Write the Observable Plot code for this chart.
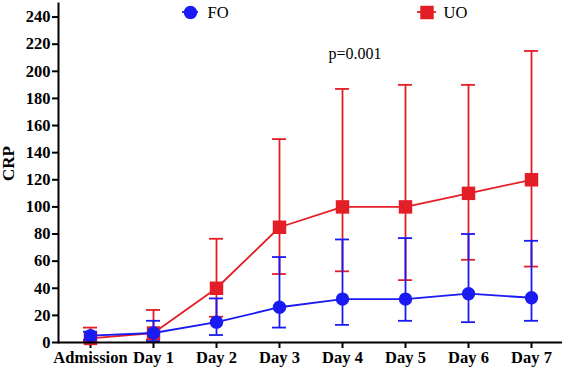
<!DOCTYPE html>
<html>
<head>
<meta charset="utf-8">
<script src="https://cdn.jsdelivr.net/npm/d3@7"></script>
<script src="https://cdn.jsdelivr.net/npm/@observablehq/plot@0.6"></script>
<style>
  html, body { margin: 0; padding: 0; background: white; }
</style>
</head>
<body>
<div id="chart"></div>
<script>
const categories = ["Admission", "Day 1", "Day 2", "Day 3", "Day 4", "Day 5", "Day 6", "Day 7"];
const foMean = [5, 7, 15, 26, 32, 32, 36, 33];
const foLow  = [2, 1, 5.5, 11, 13, 16, 15, 16];
const foHigh = [8, 16, 32.5, 63, 76, 77, 80, 75];
const uoMean = [3, 7, 40, 85, 100, 100, 110, 120];
const uoLow  = [1, 2, 19, 50.5, 52.5, 46, 61, 56];
const uoHigh = [11, 24, 76.5, 150, 187, 190, 190, 215];
const yTicks = [0, 20, 40, 60, 80, 100, 120, 140, 160, 180, 200, 220, 240];
const seriesNames = ["FO", "UO"];
const pText = "p=0.001";
const yLabel = "CRP";

const BLUE = "#1a1af2";
const RED = "#e41e26";

const fo = categories.map((c, i) => ({cat: c, v: foMean[i], lo: foLow[i], hi: foHigh[i]}));
const uo = categories.map((c, i) => ({cat: c, v: uoMean[i], lo: uoLow[i], hi: uoHigh[i]}));

const plot = Plot.plot({
  width: 566,
  height: 373,
  marginLeft: 58,
  marginRight: 4,
  marginTop: 3,
  marginBottom: 31,
  style: {fontFamily: "'Liberation Serif', 'Times New Roman', serif", fontSize: "16px", fontWeight: "bold", color: "black", background: "white"},
  x: {type: "band", domain: categories, paddingInner: 0.778, paddingOuter: 0.389, label: null},
  y: {domain: [0, 250], label: null},
  marks: [
    Plot.axisY({ticks: yTicks, tickSize: 6, tickPadding: 2, strokeWidth: 2, fontWeight: "bold", fontSize: 16.5, label: null}),
    Plot.axisX({tickSize: 6, tickPadding: 3, strokeWidth: 2, fontWeight: "bold", fontSize: 16.5, label: null}),
    // UO
    Plot.ruleX(uo, {x: "cat", y1: "lo", y2: "hi", stroke: RED, strokeWidth: 1.8}),
    Plot.tickY(uo, {x: "cat", y: "hi", stroke: RED, strokeWidth: 1.8}),
    Plot.tickY(uo, {x: "cat", y: "lo", stroke: RED, strokeWidth: 1.8}),
    Plot.line(uo, {x: "cat", y: "v", stroke: RED, strokeWidth: 1.8}),
    Plot.dot(uo, {x: "cat", y: "v", symbol: "square", r: 7.6, fill: RED, stroke: "none"}),
    // FO
    Plot.ruleX(fo, {x: "cat", y1: "lo", y2: "hi", stroke: BLUE, strokeWidth: 1.8}),
    Plot.tickY(fo, {x: "cat", y: "hi", stroke: BLUE, strokeWidth: 1.8}),
    Plot.tickY(fo, {x: "cat", y: "lo", stroke: BLUE, strokeWidth: 1.8}),
    Plot.line(fo, {x: "cat", y: "v", stroke: BLUE, strokeWidth: 1.8}),
    Plot.dot(fo, {x: "cat", y: "v", r: 6.7, fill: BLUE, stroke: "none"}),
    // axes lines
    Plot.ruleY([0], {stroke: "black", strokeWidth: 2}),
    Plot.frame({anchor: "left", stroke: "black", strokeWidth: 2}),
    // p value
    Plot.text([pText], {text: d => d, frameAnchor: "top-left", lineAnchor: "middle", dx: 270, dy: 50, fontWeight: "normal", fontSize: 16, fill: "black"}),
    // y label
    Plot.text([yLabel], {text: d => d, frameAnchor: "left", lineAnchor: "middle", dx: -50, dy: 8, rotate: -90, fontWeight: "bold", fontSize: 17, fill: "black"}),
    // legend
    Plot.dot([seriesNames[0]], {frameAnchor: "top-left", dx: 132, dy: 9, r: 6.7, fill: BLUE}),
    Plot.text([seriesNames[0]], {text: d => d, frameAnchor: "top-left", lineAnchor: "middle", dx: 149, dy: 9, textAnchor: "start", fontWeight: "normal", fontSize: 16.5, fill: "black"}),
    Plot.dot([seriesNames[1]], {frameAnchor: "top-left", dx: 368.5, dy: 9, symbol: "square", r: 7.6, fill: RED}),
    Plot.text([seriesNames[1]], {text: d => d, frameAnchor: "top-left", lineAnchor: "middle", dx: 385, dy: 9, textAnchor: "start", fontWeight: "normal", fontSize: 16.5, fill: "black"})
  ]
});

const svg = d3.select(plot);
svg.insert("line", ":first-child").attr("x1", 182).attr("x2", 198).attr("y1", 12).attr("y2", 12).attr("stroke", BLUE).attr("stroke-width", 1.8);
svg.insert("line", ":first-child").attr("x1", 417).attr("x2", 436).attr("y1", 12).attr("y2", 12).attr("stroke", RED).attr("stroke-width", 1.8);

document.getElementById("chart").appendChild(plot);
</script>
</body>
</html>
